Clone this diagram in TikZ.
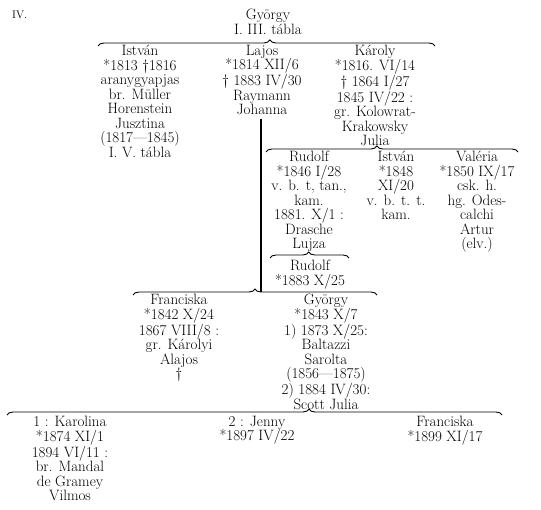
\documentclass[tikz,border=0pt]{standalone}
\usepackage{tikz}
\usetikzlibrary{decorations.pathreplacing}
\tikzstyle{person} = [anchor=north, align=center, inner sep=0pt, font=\fontsize{15}{14.5}\selectfont]
\tikzstyle{famline} = [decorate, decoration={brace, amplitude=6pt}, line width=0.9pt]
\tikzstyle{descent} = [line width=1.6pt]

\begin{document}
\begin{tikzpicture}[x=1pt, y=-1pt]
\useasboundingbox (0,0) rectangle (541,510);

\node (tabla) [person, anchor=north west, font=\fontsize{11}{13}\selectfont] at (12,11) {IV.};
\node (root) [person] at (268,9) {György\\I. III. tábla};

% first generation
\node (istvan) [person] at (140,45) {István\\*1813 \dag1816\\aranygyapjas\\br. Müller\\Horenstein\\Jusztina\\(1817---1845)\\I. V. tábla};
\node (lajos) [person] at (262,45) {Lajos\\*1814 XII/6\\\dag\ 1883 IV/30\\Raymann\\Johanna};
\node (karoly) [person] at (375,45) {Károly\\*1816. VI/14\\\dag\ 1864 I/27\\1845 IV/22 :\\gr. Kolowrat-\\Krakowsky\\Julia};

% children of Karoly
\node (rudolf) [person] at (309,151) {Rudolf\\*1846 I/28\\v. b. t, tan.,\\kam.\\1881. X/1 :\\Drasche\\Lujza};
\node (istvanb) [person] at (396,151) {István\\*1848\\XI/20\\v. b. t. t.\\kam.};
\node (valeria) [person] at (477,151) {Valéria\\*1850 IX/17\\csk. h.\\hg. Odes-\\calchi\\Artur\\(elv.)};
\node (rudolfb) [person] at (310,260) {Rudolf\\*1883 X/25};

% children of Lajos
\node (franciska) [person] at (179,294) {Franciska\\*1842 X/24\\1867 VIII/8 :\\gr. Károlyi\\Alajos\\\dag};
\node (gyorgy) [person] at (326,294) {György\\*1843 X/7\\1) 1873 X/25:\\Baltazzi\\Sarolta\\(1856---1875)\\2) 1884 IV/30:\\Scott Julia};

% children of Gyorgy
\node (karolina) [person] at (70,416) {1 : Karolina\\*1874 XI/1\\1894 VI/11 :\\br. Mandal\\de Gramey\\Vilmos};
\node (jenny) [person] at (257,416) {2 : Jenny\\*1897 IV/22};
\node (franciskab) [person] at (445,416) {Franciska\\*1899 XI/17};

% braces
\coordinate (b1l) at (98,46);
\coordinate (b1r) at (435,46);
\coordinate (b2l) at (266,152);
\coordinate (b2r) at (518,152);
\coordinate (b3l) at (270,258);
\coordinate (b3r) at (349,258);
\coordinate (b4l) at (133,295);
\coordinate (b4r) at (377,295);
\coordinate (b5l) at (7,415);
\coordinate (b5r) at (502,415);
\coordinate (lajosend) at (261,292);

\draw [famline, decoration={aspect=0.51}] (b1l) -- (b1r);
\draw [famline, decoration={aspect=0.44}] (b2l) -- (b2r);
\draw [famline, decoration={aspect=0.49}] (b3l) -- (b3r);
\draw [famline, decoration={aspect=0.5}] (b4l) -- (b4r);
\draw [famline, decoration={aspect=0.61}] (b5l) -- (b5r);

\draw [descent, shorten <=4pt] (lajos.south -| lajosend) -- (lajosend);
\end{tikzpicture}
\end{document}
